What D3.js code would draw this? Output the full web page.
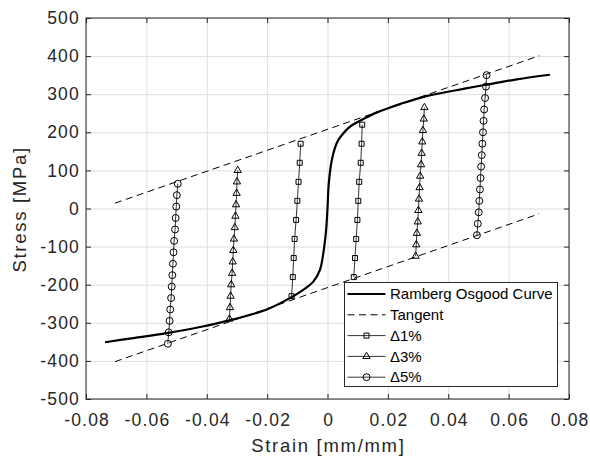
<!DOCTYPE html>
<html>
<head>
<meta charset="utf-8">
<script src="https://cdn.jsdelivr.net/npm/d3@7"></script>
<style>
body { margin: 0; background: #fff; }
text { font-family: "Liberation Sans", Arial, sans-serif; }
</style>
</head>
<body>
<div id="graph"></div>
<script>
var width = 590;
var height = 459;

// tick labels
var xTicks = [-0.08, -0.06, -0.04, -0.02, 0, 0.02, 0.04, 0.06, 0.08];
var yTicks = [-500, -400, -300, -200, -100, 0, 100, 200, 300, 400, 500];

// Ramberg Osgood curve
var roStrain = [-0.0737, -0.0643, -0.0533, -0.0422, -0.0312, -0.0201, -0.0124, -0.0091, -0.0069, -0.0047,
    -0.0025, -0.0014, -0.0005, 0, 0.0004, 0.0014, 0.0025, 0.0036, 0.0052, 0.0069,
    0.0090, 0.0119, 0.0160, 0.0196, 0.0240, 0.0328, 0.0450, 0.0527, 0.0627, 0.0737];
var roStress = [-351, -340, -327, -311, -291, -265, -235, -219, -207, -192,
    -161, -118, -60, 0, 64, 126, 160, 180, 197, 211,
    223, 235, 251, 262, 274, 295, 314, 325, 339, 351];

// tangent lines
var tanUpperStrain = [-0.0704, 0.0702];
var tanUpperStress = [14, 401];
var tanLowerStrain = [-0.0704, 0.0701];
var tanLowerStress = [-402, -14];

// delta 1%
var d1LeftStrain = [-0.0089, -0.0092, -0.0096, -0.0100, -0.0104, -0.0109, -0.0112, -0.0115, -0.0119];
var d1LeftStress = [170, 120, 70, 20, -30, -80, -130, -180, -230];
var d1RightStrain = [0.0115, 0.0113, 0.0110, 0.0105, 0.0102, 0.0099, 0.0095, 0.0091, 0.0087];
var d1RightStress = [220, 170, 120, 70, 20, -30, -80, -130, -180];

// delta 3%
var d3LeftStrain = [-0.02975, -0.0300, -0.0301, -0.0303, -0.0305, -0.0307, -0.0310, -0.0312, -0.0314, -0.0316,
    -0.0319, -0.0321, -0.0323, -0.0325];
var d3LeftStress = [100, 70, 40, 10, -20, -50, -80, -110, -140, -170, -200, -230, -260, -290];
var d3RightStrain = [0.0321, 0.0319, 0.0316, 0.0314, 0.0312, 0.0310, 0.0307, 0.0305, 0.0303, 0.0301,
    0.0299, 0.0296, 0.0294, 0.0292];
var d3RightStress = [265, 235, 205, 175, 145, 115, 85, 55, 25, -5, -35, -65, -95, -125];

// delta 5%
var d5LeftStrain = [-0.0496, -0.0499, -0.0501, -0.0503, -0.0505, -0.0508, -0.0510, -0.0512, -0.0514, -0.0516,
    -0.0518, -0.0521, -0.0523, -0.0526, -0.0529];
var d5LeftStress = [65, 35, 5, -25, -55, -85, -115, -145, -175, -205, -235, -265, -295, -325, -355];
var d5RightStrain = [0.0527, 0.0525, 0.0522, 0.0519, 0.0517, 0.0515, 0.0513, 0.0511, 0.0509, 0.0507,
    0.0505, 0.0503, 0.0501, 0.0498, 0.0495];
var d5RightStress = [350, 320, 290, 260, 230, 200, 170, 140, 110, 80, 50, 20, -10, -40, -70];

var legendLabels = ['Ramberg Osgood Curve', 'Tangent', '\u03941%', '\u03943%', '\u03945%'];

var zip = function(a, b) {
    return a.map(function(v, i) { return [v, b[i]]; });
};

var plotLeft = 86, plotRight = 569, plotTop = 18, plotBottom = 399;

var x = d3.scaleLinear().domain([-0.08, 0.08]).range([plotLeft, plotRight]);
var y = d3.scaleLinear().domain([-500, 500]).range([plotBottom, plotTop]);

var svg = d3.select('#graph')
    .append('svg')
    .attr('width', width)
    .attr('height', height);

// grid
svg.append('g')
    .attr('transform', 'translate(0,' + plotBottom + ')')
    .call(d3.axisBottom(x).tickValues(xTicks).tickSize(-(plotBottom - plotTop)).tickFormat(''))
    .call(function(g) { g.select('.domain').remove(); })
    .selectAll('line').attr('stroke', '#dedede');
svg.append('g')
    .attr('transform', 'translate(' + plotLeft + ',0)')
    .call(d3.axisLeft(y).tickValues(yTicks).tickSize(-(plotRight - plotLeft)).tickFormat(''))
    .call(function(g) { g.select('.domain').remove(); })
    .selectAll('line').attr('stroke', '#dedede');

var line = d3.line()
    .x(function(d) { return x(d[0]); })
    .y(function(d) { return y(d[1]); });

// tangents
[zip(tanUpperStrain, tanUpperStress), zip(tanLowerStrain, tanLowerStress)].forEach(function(pts) {
    svg.append('path')
        .attr('d', line(pts))
        .attr('fill', 'none')
        .attr('stroke', '#000')
        .attr('stroke-width', 1)
        .attr('stroke-dasharray', '7,4.5');
});

// Ramberg Osgood
svg.append('path')
    .attr('d', line.curve(d3.curveCatmullRom.alpha(0.5))(zip(roStrain, roStress)))
    .attr('fill', 'none')
    .attr('stroke', '#000')
    .attr('stroke-width', 2.2);
line.curve(d3.curveLinear);

var symbolFor = {
    square: d3.symbol().type(d3.symbolSquare).size(25),
    triangle: d3.symbol().type(d3.symbolTriangle).size(23),
    circle: d3.symbol().type(d3.symbolCircle).size(38)
};

var deltaSeries = [
    { marker: 'square', branches: [zip(d1LeftStrain, d1LeftStress), zip(d1RightStrain, d1RightStress)] },
    { marker: 'triangle', branches: [zip(d3LeftStrain, d3LeftStress), zip(d3RightStrain, d3RightStress)] },
    { marker: 'circle', branches: [zip(d5LeftStrain, d5LeftStress), zip(d5RightStrain, d5RightStress)] }
];

deltaSeries.forEach(function(s) {
    s.branches.forEach(function(pts) {
        svg.append('path')
            .attr('d', line(pts))
            .attr('fill', 'none')
            .attr('stroke', '#000')
            .attr('stroke-width', 0.8);
        svg.append('g').selectAll('path')
            .data(pts)
            .enter()
            .append('path')
            .attr('d', symbolFor[s.marker])
            .attr('transform', function(d) { return 'translate(' + x(d[0]) + ',' + y(d[1]) + ')'; })
            .attr('fill', 'none')
            .attr('stroke', '#000')
            .attr('stroke-width', 1);
    });
});

// axes
var fmtX = function(d) { return d === 0 ? '0' : d.toFixed(2); };
var fmtY = function(d) { return String(d); };

var styleAxis = function(g) {
    g.attr('color', '#262626')
        .attr('font-family', '"Liberation Sans", Arial, sans-serif')
        .attr('font-size', 17.5);
    g.select('.domain').remove();
    g.selectAll('text').attr('fill', '#262626').style('letter-spacing', '1.2px');
};

svg.append('g')
    .attr('transform', 'translate(0,' + plotBottom + ')')
    .call(d3.axisBottom(x).tickValues(xTicks).tickSize(-5).tickPadding(14.6).tickFormat(fmtX))
    .call(styleAxis)
    .selectAll('text').attr('dx', '0.6px');
svg.append('g')
    .attr('transform', 'translate(0,' + plotTop + ')')
    .call(d3.axisTop(x).tickValues(xTicks).tickSize(-5).tickFormat(''))
    .call(styleAxis);
svg.append('g')
    .attr('transform', 'translate(' + plotLeft + ',0)')
    .call(d3.axisLeft(y).tickValues(yTicks).tickSize(-5).tickPadding(6).tickFormat(fmtY))
    .call(styleAxis);
svg.append('g')
    .attr('transform', 'translate(' + plotRight + ',0)')
    .call(d3.axisRight(y).tickValues(yTicks).tickSize(-5).tickFormat(''))
    .call(styleAxis);

svg.append('rect')
    .attr('x', plotLeft)
    .attr('y', plotTop)
    .attr('width', plotRight - plotLeft)
    .attr('height', plotBottom - plotTop)
    .attr('fill', 'none')
    .attr('stroke', '#262626')
    .attr('stroke-width', 1);

// axis labels
svg.append('text')
    .attr('x', (plotLeft + plotRight) / 2 + 0.9)
    .attr('y', 452.3)
    .attr('text-anchor', 'middle')
    .attr('font-size', 18.5)
    .attr('fill', '#262626')
    .style('letter-spacing', '1.7px')
    .text('Strain [mm/mm]');
svg.append('text')
    .attr('transform', 'translate(25.5,' + ((plotTop + plotBottom) / 2 + 0.9) + ') rotate(-90)')
    .attr('text-anchor', 'middle')
    .attr('font-size', 18.5)
    .attr('fill', '#262626')
    .style('letter-spacing', '1.7px')
    .text('Stress [MPa]');

// legend
var legend = svg.append('g');
legend.append('rect')
    .attr('x', 344.5)
    .attr('y', 282.5)
    .attr('width', 213)
    .attr('height', 104)
    .attr('fill', '#fff')
    .attr('stroke', '#262626')
    .attr('stroke-width', 1);

var rows = legend.selectAll('g.row')
    .data(legendLabels)
    .enter()
    .append('g')
    .attr('class', 'row')
    .attr('transform', function(d, i) { return 'translate(0,' + (294 + i * 20.8) + ')'; });

rows.append('line')
    .attr('x1', 347.5)
    .attr('x2', 385.5)
    .attr('stroke', '#000')
    .attr('stroke-width', function(d, i) { return i === 0 ? 2.2 : (i === 1 ? 1 : 0.8); })
    .attr('stroke-dasharray', function(d, i) { return i === 1 ? '7,4.5' : null; });

rows.filter(function(d, i) { return i > 1; })
    .append('path')
    .attr('d', function(d, i) { return symbolFor[deltaSeries[i].marker](); })
    .attr('transform', 'translate(366.5,0)')
    .attr('fill', 'none')
    .attr('stroke', '#000')
    .attr('stroke-width', 1);

rows.append('text')
    .attr('x', 390)
    .attr('dy', '0.35em')
    .attr('font-size', 15)
    .attr('fill', '#000')
    .text(function(d) { return d; });
</script>
</body>
</html>
